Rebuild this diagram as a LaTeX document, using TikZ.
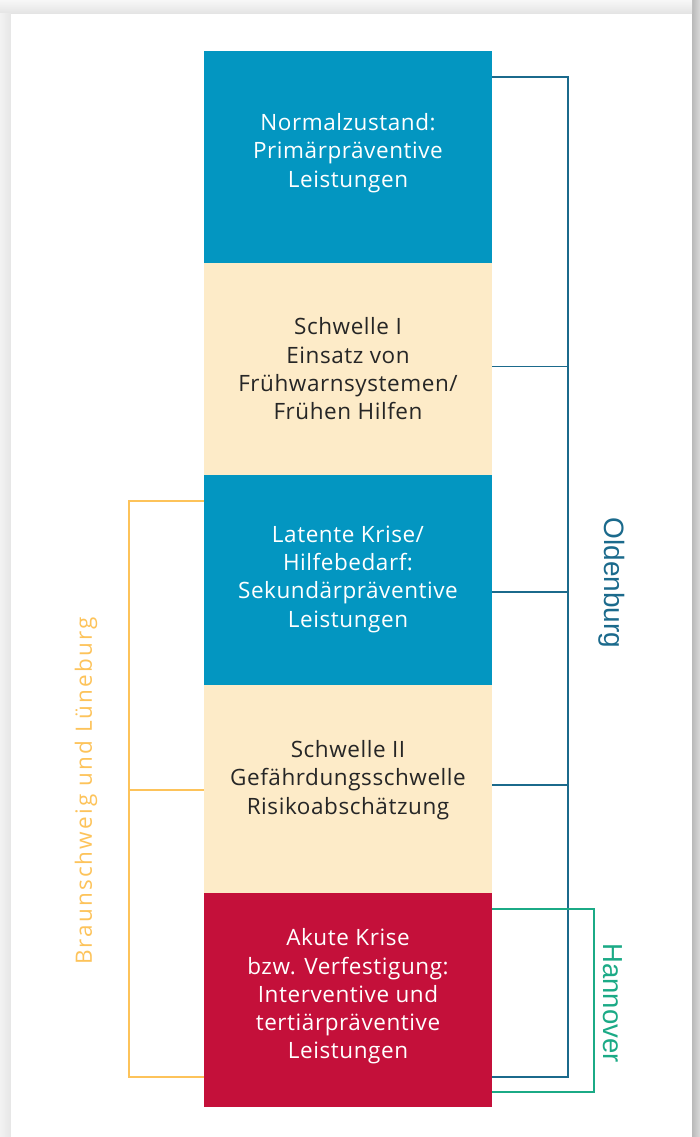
\documentclass[tikz,border=0pt]{standalone}
\usepackage{fontspec}
\setmainfont[LetterSpace=2.5]{Open Sans}
\newfontfamily\arialfont{Liberation Sans}
\newfontfamily\bsfont[LetterSpace=9.5]{Open Sans}
\definecolor{boxblue}{HTML}{0396C1}
\definecolor{boxbeige}{HTML}{FDEBC8}
\definecolor{boxred}{HTML}{C4103A}
\definecolor{oldcol}{HTML}{1B6A8C}
\definecolor{hancol}{HTML}{1BAA86}
\definecolor{bscol}{HTML}{FDC35A}
\tikzset{
  stage/.style={anchor=north west, minimum width=288pt, inner sep=0pt, outer sep=0pt, draw=none},
  stagetext/.style={align=center, inner sep=0pt, font=\fontsize{22.5}{28.3}\selectfont},
  oldline/.style={draw=oldcol, line width=1.8pt},
  hanline/.style={draw=hancol, line width=1.4pt},
  bsline/.style={draw=bscol, line width=1.8pt},
}
\begin{document}
\begin{tikzpicture}[x=1pt,y=-1pt]
\useasboundingbox (0,0) rectangle (700,1137);
% background and card
\fill[gray!12] (0,0) rectangle (700,1137);
\shade[left color=gray!55, right color=gray!30] (692,0) rectangle (700,1137);
\shade[top color=gray!6, bottom color=gray!22] (0,0) rectangle (692,14);
\shade[left color=gray!10, right color=gray!20] (0,14) rectangle (11,1137);
\fill[white] (11,14) rectangle (692,1137);

% stage boxes
\node[stage, fill=boxblue, minimum height=212pt] (b1) at (204,51) {};
\node[stage, fill=boxbeige, minimum height=212pt] (b2) at (204,263) {};
\node[stage, fill=boxblue, minimum height=210pt] (b3) at (204,475) {};
\node[stage, fill=boxbeige, minimum height=208pt] (b4) at (204,685) {};
\node[stage, fill=boxred, minimum height=214pt] (b5) at (204,893) {};

\node[stagetext, text=white] (t1) at (348,153) {Normalzustand:\\Primärpräventive\\Leistungen};
\node[stagetext, text=black!85] (t2) at (348,369) {Schwelle I\\Einsatz von\\Frühwarnsystemen/\\Frühen Hilfen};
\node[stagetext, text=white] (t3) at (348,579) {Latente Krise/\\Hilfebedarf:\\Sekundärpräventive\\Leistungen};
\node[stagetext, text=black!85] (t4) at (348,780) {Schwelle II\\Gefährdungsschwelle\\Risikoabschätzung};
\node[stagetext, text=white] (t5) at (348,996.5) {Akute Krise\\bzw. Verfestigung:\\Interventive und\\tertiärpräventive\\Leistungen};

% bracket coordinates
\coordinate (oT) at (568,77);
\coordinate (oB) at (568,1077);
\coordinate (hT) at (594,909);
\coordinate (hB) at (594,1092);
\coordinate (yT) at (129,501);
\coordinate (yB) at (129,1077);

% Oldenburg bracket
\draw[oldline] (b1.east |- oT) -- (oT) -- (oB) -- (b5.east |- oB);
\draw[oldline] (b2.east |- 0,366.5) -- (oT |- 0,366.5);
\draw[oldline] (b3.east |- 0,592) -- (oT |- 0,592);
\draw[oldline] (b4.east |- 0,785) -- (oT |- 0,785);
% Hannover bracket
\draw[hanline] (b5.east |- hT) -- (hT) -- (hB) -- (b5.east |- hB);
% Braunschweig bracket
\draw[bsline] (b3.west |- yT) -- (yT) -- (yB) -- (b5.west |- yB);
\draw[bsline] (yT |- 0,790) -- (b4.west |- 0,790);

% labels
\node[rotate=-90, text=oldcol, font=\arialfont\fontsize{28}{30}\selectfont, inner sep=0pt] (lo) at (612,583) {Oldenburg};
\node[rotate=-90, text=hancol, font=\arialfont\fontsize{27.5}{30}\selectfont, inner sep=0pt] (lh) at (613,1003) {Hannover};
\node[rotate=90, text=bscol, font=\bsfont\fontsize{22.5}{25}\selectfont, inner sep=0pt] (lb) at (86,791) {Braunschweig und Lüneburg};
\end{tikzpicture}
\end{document}
